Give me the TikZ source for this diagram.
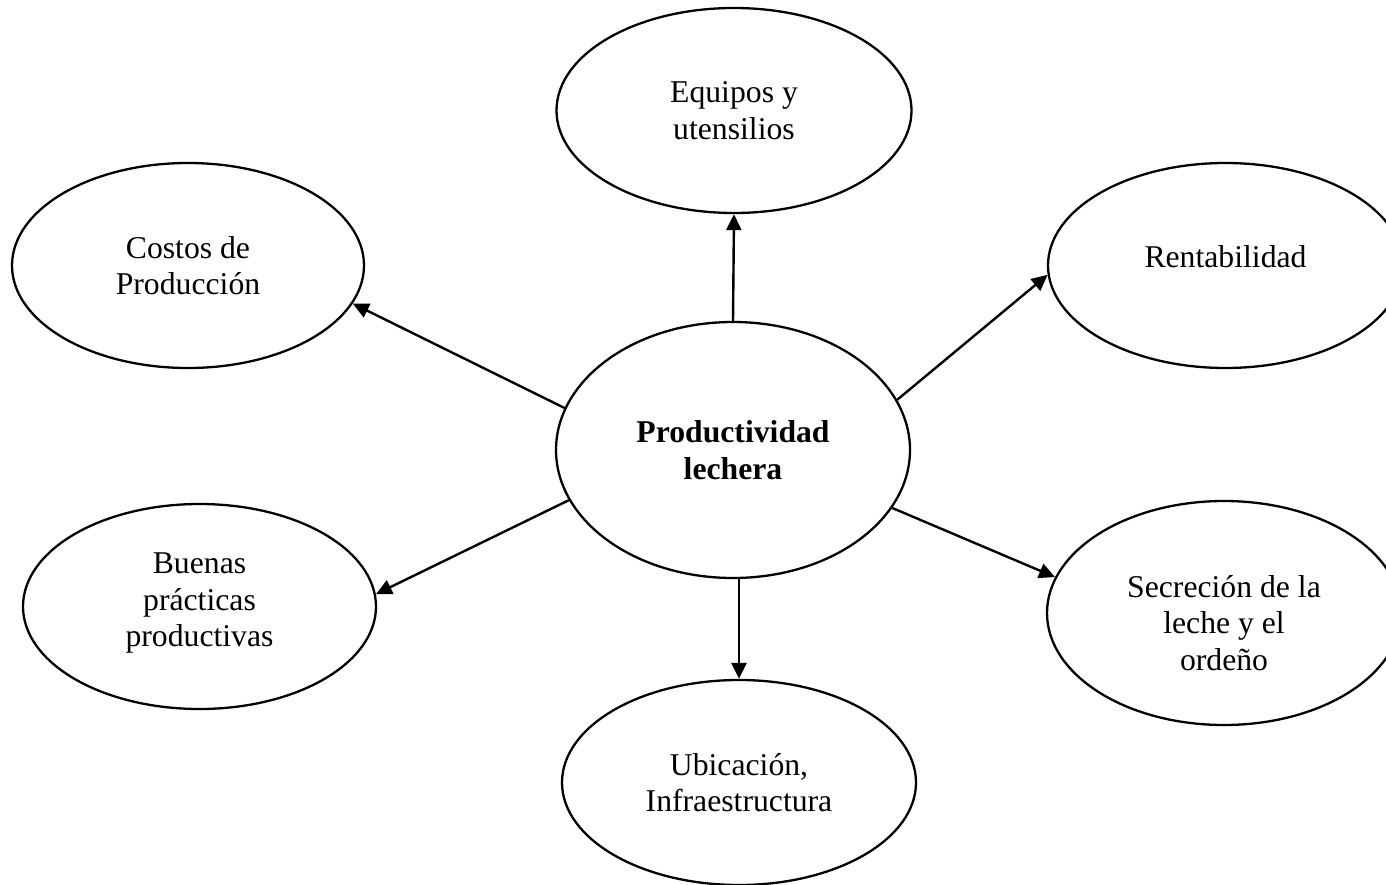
\documentclass[tikz,border=0pt]{standalone}
\usepackage{fontspec}
\setmainfont{Liberation Serif}
\usetikzlibrary{shapes.geometric,arrows.meta}
\begin{document}
\begin{tikzpicture}[x=1pt,y=-1pt,
  bub/.style={ellipse, draw, line width=2.3pt, inner sep=0pt, minimum width=354pt, minimum height=205pt, align=center, font=\fontsize{31.7}{36.5}\selectfont},
  arr/.style={line width=2.4pt, -{Triangle[length=16pt,width=15pt]}}]
\useasboundingbox (0,0) rectangle (1386,885);
\clip (0,0) rectangle (1386,885);
\node[bub, minimum height=256pt, font=\fontsize{31.7}{36.5}\selectfont\bfseries] (c) at (733,450) {Productividad\\lechera};
\node[bub, minimum width=355pt] (e) at (734,110.5) {Equipos y\\utensilios};
\node[bub, minimum width=352pt] (k) at (188,265.5) {Costos de\\Producción};
\node[bub, minimum width=355pt, text depth=18.7pt] (r) at (1225.5,265.5) {Rentabilidad};
\node[bub, minimum width=353pt, text depth=13pt] (b) at (199.5,606.5) {Buenas\\prácticas\\productivas};
\node[bub, minimum height=224pt, text height=114pt, text depth=0pt] (s) at (1224,613) {Secreción de la\\leche y el\\ordeño};
\node[bub] (u) at (739,782.5) {Ubicación,\\Infraestructura};
\draw[arr] (c.north) -- (e.south);
\draw[arr] (c.166.6) -- (k.-13.5);
\draw[arr] (c.17.9) -- (r.183);
\draw[arr] (c.197.7) -- (b.4.7);
\draw[arr] (c.-20.7) -- (s.168);
\draw[arr] (c.south -| u.north) -- (u.north);
\end{tikzpicture}
\end{document}
